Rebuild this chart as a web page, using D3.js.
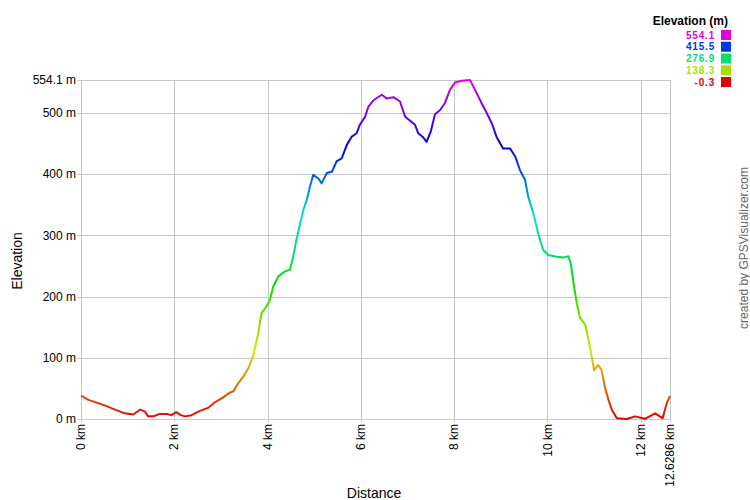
<!DOCTYPE html>
<html>
<head>
<meta charset="utf-8">
<script src="https://cdn.jsdelivr.net/npm/d3@7"></script>
<style>
  html, body { margin: 0; padding: 0; background: #fff; }
  svg { display: block; font-family: Arial, "Liberation Sans", sans-serif; }
</style>
</head>
<body>
<svg id="chart" width="750" height="500"></svg>
<script>
// ---- Data ----
const distanceKm = [0.00,0.16,0.35,0.51,0.73,0.94,1.12,1.27,1.37,1.44,1.55,1.69,1.84,1.94,2.04,2.14,2.23,2.37,2.55,2.73,2.87,3.05,3.19,3.27,3.37,3.48,3.59,3.69,3.80,3.87,3.98,4.05,4.12,4.23,4.37,4.48,4.55,4.62,4.70,4.77,4.84,4.91,4.98,5.09,5.16,5.27,5.38,5.48,5.59,5.70,5.80,5.91,5.98,6.09,6.16,6.27,6.45,6.55,6.70,6.84,6.95,7.05,7.16,7.23,7.33,7.41,7.50,7.59,7.70,7.80,7.91,8.02,8.16,8.34,8.45,8.59,8.70,8.81,8.91,9.05,9.20,9.31,9.41,9.52,9.59,9.70,9.80,9.91,10.02,10.20,10.34,10.45,10.50,10.56,10.63,10.70,10.81,10.88,10.95,11.00,11.09,11.16,11.23,11.31,11.38,11.49,11.70,11.88,12.09,12.31,12.47,12.56,12.6286];
const elevationM = [38,31,26,22,15,9,7,15,12,4,4,8,8,6,11,6,4,6,13,18,27,35,43,45,58,69,83,102,140,173,184,194,216,233,241,244,265,293,320,342,358,380,399,393,385,402,404,421,426,448,461,467,481,494,510,521,530,524,526,519,494,488,481,467,461,453,470,498,505,516,538,550,553,554.1,538,516,500,483,461,442,442,429,407,391,363,336,304,276,268,265,264,266,254,222,189,165,154,129,102,80,88,80,53,31,15,1,-0.3,4,0,9,1,26,37];
const xTickValues = [0,2,4,6,8,10,12,12.6286];
const xTickLabels = ["0 km","2 km","4 km","6 km","8 km","10 km","12 km","12.6286 km"];
const yTickValues = [0,100,200,300,400,500,554.1];
const yTickLabels = ["0 m","100 m","200 m","300 m","400 m","500 m","554.1 m"];
const legendValues = [554.1,415.5,276.9,138.3,-0.3];
const elevMin = -0.3, elevMax = 554.1;

// ---- Scales ----
const svg = d3.select("#chart");
const x = d3.scaleLinear().domain([0, 12.6286]).range([81, 670]);
const y = d3.scaleLinear().domain([elevMin, elevMax]).range([419, 80]);
const colorOf = v => d3.hsl(300 * (v - elevMin) / (elevMax - elevMin), 1, 0.44).toString();

const gridColor = "#c8c8c8";

// ---- Grid ----
const grid = svg.append("g");
grid.selectAll("line.h").data(yTickValues).join("line")
  .attr("x1", x(0) - 4).attr("x2", x(12.6286))
  .attr("y1", d => Math.round(y(d)) + 0.5).attr("y2", d => Math.round(y(d)) + 0.5)
  .attr("stroke", gridColor).attr("stroke-width", 1);
grid.selectAll("line.v").data(xTickValues).join("line")
  .attr("x1", d => Math.round(x(d)) + 0.5).attr("x2", d => Math.round(x(d)) + 0.5)
  .attr("y1", y(elevMax)).attr("y2", y(elevMin) + 3)
  .attr("stroke", gridColor).attr("stroke-width", 1);

// ---- Y labels ----
svg.append("g").selectAll("text").data(yTickValues).join("text")
  .attr("x", 76).attr("y", d => y(d)).attr("dy", "0.35em")
  .attr("text-anchor", "end").attr("font-size", 12).attr("fill", "#000")
  .text((d, i) => yTickLabels[i]);

// ---- X labels ----
svg.append("g").selectAll("text").data(xTickValues).join("text")
  .attr("transform", d => `translate(${x(d)},424) rotate(-90)`)
  .attr("dy", "0.35em")
  .attr("text-anchor", "end").attr("font-size", 12).attr("fill", "#000")
  .text((d, i) => xTickLabels[i]);

// ---- Axis titles ----
svg.append("text").attr("x", 374).attr("y", 498).attr("text-anchor", "middle")
  .attr("font-size", 14).text("Distance");
svg.append("text").attr("transform", "translate(22,261) rotate(-90)")
  .attr("text-anchor", "middle").attr("font-size", 14).text("Elevation");

// ---- Gradient by elevation ----
const defs = svg.append("defs");
const grad = defs.append("linearGradient").attr("id", "elevGrad")
  .attr("gradientUnits", "userSpaceOnUse")
  .attr("x1", 0).attr("x2", 0).attr("y1", y(elevMin)).attr("y2", y(elevMax));
d3.range(0, 1.0001, 0.05).forEach(t => {
  grad.append("stop").attr("offset", t).attr("stop-color", colorOf(elevMin + t * (elevMax - elevMin)));
});

// ---- Line ----
const pts = distanceKm.map((d, i) => [d, elevationM[i]]);
const line = d3.line().x(d => x(d[0])).y(d => y(d[1]));
svg.append("path").datum(pts)
  .attr("d", line).attr("fill", "none")
  .attr("stroke", "url(#elevGrad)").attr("stroke-width", 2)
  .attr("stroke-linejoin", "round");

// ---- Legend ----
svg.append("text").attr("x", 728).attr("y", 25).attr("text-anchor", "end")
  .attr("font-size", 12).attr("font-weight", "bold").text("Elevation (m)");
const leg = svg.append("g").selectAll("g").data(legendValues).join("g")
  .attr("transform", (d, i) => `translate(0,${35 + i * 11.75})`);
leg.append("rect").attr("x", 721).attr("y", -5).attr("width", 10).attr("height", 10)
  .attr("fill", d => colorOf(d));
leg.append("text").attr("x", 715).attr("y", 0).attr("dy", "0.36em")
  .attr("text-anchor", "end").attr("font-size", 10).attr("letter-spacing", 0.8)
  .attr("font-weight", "bold")
  .attr("fill", d => colorOf(d)).text(d => d.toFixed(1));

// ---- Credit ----
svg.append("text").attr("transform", "translate(744,248) rotate(-90)")
  .attr("dy", "0.35em").attr("text-anchor", "middle").attr("font-size", 12)
  .attr("fill", "#666").text("created by GPSVisualizer.com");
</script>
</body>
</html>
